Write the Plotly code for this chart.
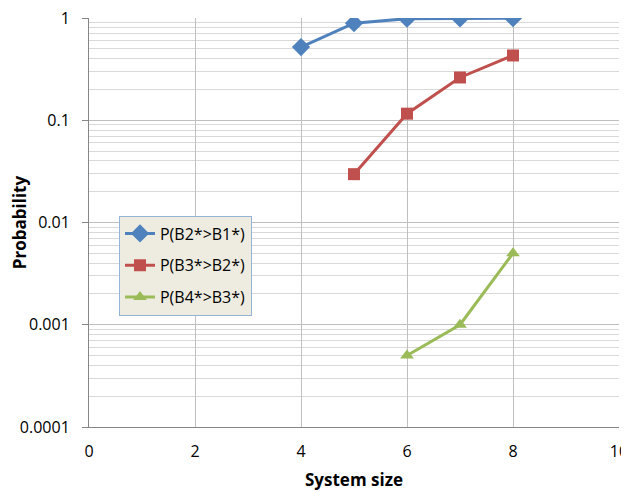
import plotly.graph_objects as go

x_b2 = [4, 5, 6, 7, 8]
y_b2 = [0.52, 0.89, 0.985, 0.99, 0.995]
x_b3 = [5, 6, 7, 8]
y_b3 = [0.0297, 0.116, 0.262, 0.43]
x_b4 = [6, 7, 8]
y_b4 = [0.0005, 0.001, 0.005]

names = ["P(B2*>B1*)", "P(B3*>B2*)", "P(B4*>B3*)"]
colors = ["#4F81BD", "#C0504D", "#9BBB59"]
symbols = ["diamond", "square", "triangle-up"]
sizes = [14, 12, 12]

xtick_vals = [0, 2, 4, 6, 8, 10]
ytick_vals = [0.0001, 0.001, 0.01, 0.1, 1]
ytick_text = ["0.0001", "0.001", "0.01", "0.1", "1"]

fig = go.Figure()
for i, (xs, ys) in enumerate([(x_b2, y_b2), (x_b3, y_b3), (x_b4, y_b4)]):
    fig.add_trace(go.Scatter(
        x=xs, y=ys, name=names[i], mode="lines+markers",
        legendgroup=str(i),
        line=dict(color=colors[i], width=3),
        marker=dict(symbol=symbols[i], size=sizes[i], color=colors[i]),
    ))

font = "Open Sans, Noto Sans, sans-serif"
# page body has an 8px default margin, so the figure is sized to fit the window
fig.update_layout(
    width=621, height=484,
    margin=dict(l=81, r=10, t=10, b=65),
    paper_bgcolor="white", plot_bgcolor="white",
    font=dict(family=font, size=16, color="black"),
    showlegend=True,
    legend=dict(
        x=0.0566, y=0.517, xanchor="left", yanchor="top",
        bgcolor="#EEECE1", bordercolor="#95B3D7", borderwidth=1,
        font=dict(size=16), tracegroupgap=8,
    ),
    xaxis=dict(
        range=[0, 10], tickvals=xtick_vals, ticks="",
        automargin=False, ticklabelstandoff=10, ticklabeloverflow="allow",
        showgrid=True, gridcolor="#BFBFBF", gridwidth=1,
        showline=True, linecolor="#868686", zeroline=False,
        title=dict(text="<b>System size</b>", font=dict(size=17), standoff=12),
        tickfont=dict(size=16),
    ),
    yaxis=dict(
        type="log", range=[-4, 0], tickvals=ytick_vals, ticktext=ytick_text,
        automargin=False, ticklabeloverflow="allow",
        ticks="outside", ticklen=6, tickcolor="#868686", ticklabelstandoff=9,
        showgrid=True, gridcolor="#BFBFBF", gridwidth=1,
        minor=dict(showgrid=True, gridcolor="#D9D9D9", gridwidth=1, dtick="D1"),
        showline=True, linecolor="#868686", zeroline=False,
        title=dict(text="<b>Probability</b>", font=dict(size=17), standoff=14),
        tickfont=dict(size=16),
    ),
)
fig.write_html("out.html")
